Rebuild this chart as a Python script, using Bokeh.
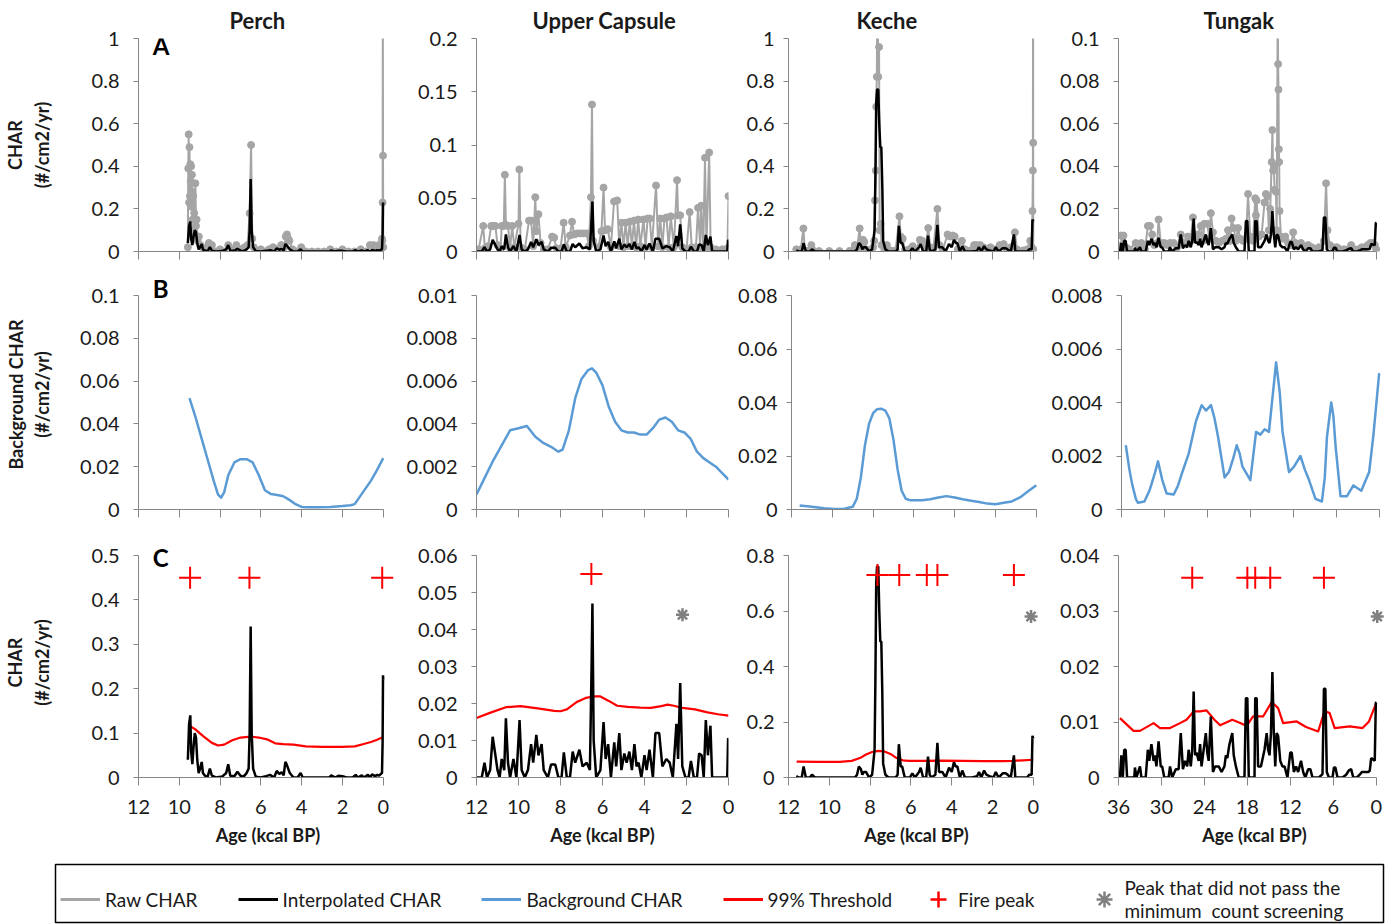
from bokeh.plotting import figure
from bokeh.layouts import row, column
from bokeh.models import Range1d, FixedTicker, CustomJSTickFormatter, Label, Legend, LegendItem
from bokeh.embed import file_html
from bokeh.resources import INLINE

FONT = "Lato"
GRAY = "#A5A5A5"
BLUE = "#5B9BD5"
RED = "#FF0000"
STAR = "#808080"
AXIS = "#868686"
TXT = "#1a1a1a"

site_names = ["Perch", "Upper Capsule", "Keche", "Tungak"]
panel_letters = ["A", "B", "C"]
row_a_label = "CHAR\n(#/cm2/yr)"
row_b_label = "Background CHAR\n(#/cm2/yr)"
row_c_label = "CHAR\n(#/cm2/yr)"
x_label = "Age (kcal BP)"

# ---- x ticks (kcal BP) ----
perch_xticks = [12, 10, 8, 6, 4, 2, 0]
uc_xticks = [12, 10, 8, 6, 4, 2, 0]
keche_xticks = [12, 10, 8, 6, 4, 2, 0]
tungak_xticks = [36, 30, 24, 18, 12, 6, 0]

# ---- y ticks per row ----
perch_yticks_a = [0, 0.2, 0.4, 0.6, 0.8, 1]
uc_yticks_a = [0, 0.05, 0.1, 0.15, 0.2]
keche_yticks_a = [0, 0.2, 0.4, 0.6, 0.8, 1]
tungak_yticks_a = [0, 0.02, 0.04, 0.06, 0.08, 0.1]
perch_yticks_b = [0, 0.02, 0.04, 0.06, 0.08, 0.1]
uc_yticks_b = [0, 0.002, 0.004, 0.006, 0.008, 0.01]
keche_yticks_b = [0, 0.02, 0.04, 0.06, 0.08]
tungak_yticks_b = [0, 0.002, 0.004, 0.006, 0.008]
perch_yticks_c = [0, 0.1, 0.2, 0.3, 0.4, 0.5]
uc_yticks_c = [0, 0.01, 0.02, 0.03, 0.04, 0.05, 0.06]
keche_yticks_c = [0, 0.2, 0.4, 0.6, 0.8]
tungak_yticks_c = [0, 0.01, 0.02, 0.03, 0.04]

# ---- Perch ----
perch_raw = [(9.58,0.02),(9.56,0.39),(9.54,0.55),(9.52,0.23),(9.50,0.49),(9.48,0.26),(9.46,0.41),(9.44,0.33),
             (9.42,0.40),(9.40,0.21),(9.38,0.36),(9.36,0.28),(9.34,0.15),(9.32,0.26),(9.30,0.10),(9.27,0.18),
             (9.24,0.07),(9.21,0.32),(9.18,0.12),(9.15,0.15),(9.10,0.05),(9.04,0.07),(8.96,0.03),(8.85,0.02),
             (8.70,0.01),(8.55,0.04),(8.40,0.03),(8.20,0.0),(8.00,0.01),(7.80,0.0),(7.60,0.03),(7.40,0.01),
             (7.20,0.03),(7.00,0.01),(6.80,0.02),(6.65,0.03),(6.55,0.18),(6.48,0.50),(6.42,0.06),(6.35,0.02),
             (6.20,0.0),(6.00,0.01),(5.80,0.0),(5.60,0.01),(5.40,0.02),(5.20,0.01),(5.00,0.03),(4.85,0.02),
             (4.78,0.07),(4.72,0.08),(4.66,0.06),(4.60,0.05),(4.45,0.01),(4.25,0.0),(4.02,0.02),(3.80,0.0),
             (3.50,0.0),(3.20,0.0),(2.90,0.0),(2.60,0.01),(2.30,0.0),(2.00,0.01),(1.70,0.0),(1.40,0.0),
             (1.10,0.01),(0.85,0.0),(0.65,0.03),(0.48,0.03),(0.35,0.02),(0.22,0.03),(0.12,0.02),(0.06,0.06),
             (0.04,0.05),(0.03,0.23),(0.02,1.25),(0.01,0.45),(0.0,0.02)]
perch_interp = [(9.58,0.04),(9.52,0.12),(9.46,0.14),(9.42,0.06),(9.36,0.03),(9.30,0.07),(9.24,0.10),(9.18,0.09),
                (9.12,0.04),(9.05,0.01),(8.98,0.02),(8.90,0.035),(8.84,0.01),(8.76,0.005),(8.62,0.0),(8.50,0.02),
                (8.40,0.004),(8.20,0.0),(7.90,0.002),(7.70,0.01),(7.60,0.03),(7.50,0.004),(7.30,0.003),(7.15,0.013),
                (7.00,0.004),(6.85,0.002),(6.70,0.01),(6.60,0.02),(6.55,0.10),(6.50,0.34),(6.45,0.10),(6.38,0.02),
                (6.25,0.002),(6.00,0.0),(5.75,0.003),(5.55,0.006),(5.35,0.0),(5.22,0.015),(5.10,0.008),(4.98,0.012),
                (4.88,0.005),(4.80,0.035),(4.74,0.03),(4.66,0.02),(4.58,0.01),(4.40,0.0),(4.20,0.0),(4.05,0.01),
                (3.95,0.0),(3.70,0.0),(3.40,0.0),(3.00,0.0),(2.65,0.0),(2.55,0.005),(2.35,0.0),(2.20,0.004),
                (2.00,0.003),(1.80,0.0),(1.50,0.0),(1.35,0.006),(1.25,0.0),(1.05,0.005),(0.95,0.0),(0.75,0.006),
                (0.65,0.0),(0.55,0.007),(0.40,0.003),(0.30,0.006),(0.20,0.004),(0.12,0.008),(0.06,0.01),
                (0.03,0.08),(0.01,0.23),(0.0,0.22)]
perch_background = [(9.5,0.052),(9.2,0.043),(8.9,0.033),(8.6,0.023),(8.3,0.013),(8.1,0.007),(7.95,0.0055),
                    (7.8,0.008),(7.6,0.016),(7.3,0.022),(7.0,0.0235),(6.7,0.0235),(6.4,0.022),(6.1,0.016),
                    (5.8,0.009),(5.5,0.0072),(5.2,0.0068),(4.9,0.0062),(4.6,0.0045),(4.3,0.0025),(4.0,0.0012),
                    (3.7,0.001),(3.2,0.001),(2.6,0.0012),(2.0,0.0016),(1.6,0.002),(1.4,0.0025),(1.0,0.008),
                    (0.6,0.0135),(0.3,0.0185),(0.0,0.024)]
perch_threshold = [(9.55,0.118),(9.2,0.108),(8.8,0.092),(8.4,0.078),(8.1,0.072),(7.8,0.074),(7.4,0.084),
                   (7.0,0.09),(6.5,0.092),(6.1,0.09),(5.7,0.086),(5.3,0.077),(4.9,0.075),(4.4,0.074),(3.8,0.07),
                   (3.0,0.069),(2.0,0.069),(1.4,0.07),(1.0,0.075),(0.6,0.08),(0.3,0.085),(0.0,0.091)]
perch_peaks = [9.47, 6.56, 0.05]
perch_peak_level = 0.45
perch_rejected = []

# ---- Upper Capsule ----
uc_raw = [(11.9,0.002),(11.68,0.024),(11.6,0.003),(11.45,0.005),(11.3,0.024),(11.2,0.024),(11.1,0.024),(11.0,0.006),
          (10.85,0.003),(10.8,0.024),(10.7,0.024),(10.65,0.072),(10.6,0.025),(10.5,0.024),(10.4,0.003),(10.3,0.024),
          (10.2,0.004),(10.0,0.026),(9.96,0.077),(9.9,0.004),(9.7,0.002),(9.5,0.029),(9.4,0.029),(9.3,0.005),
          (9.2,0.051),(9.15,0.019),(9.05,0.035),(8.95,0.008),(8.8,0.002),(8.6,0.002),(8.4,0.014),(8.3,0.013),
          (8.2,0.003),(8.0,0.003),(7.85,0.027),(7.75,0.004),(7.55,0.015),(7.45,0.028),(7.35,0.016),(7.2,0.017),
          (7.05,0.017),(6.9,0.017),(6.75,0.017),(6.65,0.005),(6.55,0.051),(6.5,0.138),(6.45,0.01),(6.2,0.004),
          (6.05,0.019),(5.95,0.06),(5.88,0.02),(5.75,0.021),(5.6,0.004),(5.45,0.047),(5.3,0.048),(5.2,0.005),
          (5.1,0.027),(5.0,0.004),(4.9,0.027),(4.8,0.005),(4.7,0.028),(4.6,0.005),(4.5,0.029),(4.4,0.004),
          (4.3,0.03),(4.2,0.005),(4.05,0.03),(3.95,0.004),(3.85,0.031),(3.75,0.031),(3.65,0.004),(3.45,0.062),
          (3.35,0.005),(3.25,0.031),(3.15,0.004),(3.05,0.031),(2.95,0.032),(2.85,0.004),(2.75,0.033),(2.6,0.004),
          (2.45,0.067),(2.4,0.034),(2.3,0.034),(2.2,0.004),(2.0,0.002),(1.85,0.037),(1.75,0.004),(1.55,0.004),
          (1.45,0.041),(1.35,0.004),(1.3,0.043),(1.2,0.004),(1.12,0.088),(1.05,0.004),(0.92,0.093),(0.85,0.004),
          (0.6,0.002),(0.3,0.002),(0.05,0.003),(0.0,0.052)]
uc_interp = [(12.0,0.0),(11.75,0.0),(11.62,0.004),(11.5,0.0),(11.35,0.002),(11.23,0.011),(11.1,0.006),(11.0,0.002),
             (10.9,0.0),(10.8,0.005),(10.68,0.002),(10.6,0.016),(10.5,0.004),(10.4,0.0),(10.24,0.005),(10.1,0.0),
             (9.95,0.0155),(9.85,0.002),(9.7,0.0),(9.55,0.002),(9.4,0.009),(9.3,0.004),(9.15,0.0115),(9.05,0.006),
             (8.9,0.009),(8.8,0.002),(8.6,0.0),(8.45,0.0035),(8.25,0.0035),(8.1,0.0),(7.95,0.0),(7.84,0.0068),
             (7.7,0.0),(7.55,0.0),(7.42,0.007),(7.3,0.004),(7.1,0.0075),(6.95,0.003),(6.75,0.004),(6.6,0.002),
             (6.52,0.03),(6.48,0.047),(6.42,0.01),(6.3,0.0),(6.1,0.002),(5.95,0.015),(5.85,0.005),(5.73,0.009),
             (5.6,0.0),(5.44,0.0095),(5.35,0.003),(5.2,0.012),(5.1,0.002),(4.96,0.0065),(4.85,0.004),(4.72,0.007),
             (4.6,0.002),(4.48,0.009),(4.38,0.003),(4.28,0.004),(4.15,0.0),(4.0,0.006),(3.9,0.002),(3.76,0.0075),
             (3.6,0.0),(3.48,0.012),(3.3,0.012),(3.15,0.003),(2.96,0.005),(2.8,0.004),(2.65,0.0),(2.48,0.0145),
             (2.4,0.005),(2.3,0.0255),(2.2,0.003),(2.05,0.0),(1.9,0.0),(1.79,0.0045),(1.65,0.0),(1.5,0.0),
             (1.4,0.0065),(1.28,0.006),(1.18,0.0),(1.08,0.0155),(0.98,0.006),(0.86,0.014),(0.78,0.0),(0.5,0.0),
             (0.2,0.0),(0.06,0.0),(0.02,0.0105),(0.0,0.0105)]
uc_background = [(12.0,0.0007),(11.6,0.0015),(11.2,0.0023),(10.8,0.003),(10.4,0.0037),(10.0,0.0038),(9.6,0.0039),
                 (9.2,0.0034),(8.8,0.0031),(8.4,0.0029),(8.1,0.0027),(7.9,0.0028),(7.6,0.0037),(7.3,0.0052),
                 (7.0,0.0061),(6.7,0.0065),(6.5,0.0066),(6.3,0.0064),(6.0,0.0058),(5.7,0.0048),(5.4,0.0041),
                 (5.1,0.0037),(4.8,0.0036),(4.5,0.0036),(4.2,0.0035),(3.9,0.0035),(3.6,0.0038),(3.3,0.0042),
                 (3.0,0.0043),(2.7,0.0041),(2.4,0.0037),(2.1,0.0036),(1.8,0.0033),(1.5,0.0027),(1.2,0.0024),
                 (0.9,0.0022),(0.6,0.002),(0.3,0.0017),(0.0,0.0014)]
uc_threshold = [(12.0,0.0161),(11.3,0.0176),(10.6,0.019),(9.9,0.0193),(9.0,0.0186),(8.3,0.018),(8.0,0.0179),
                (7.7,0.0184),(7.2,0.0205),(6.8,0.0215),(6.4,0.0219),(6.1,0.0219),(5.7,0.0207),(5.3,0.0194),
                (4.8,0.0191),(4.2,0.0189),(3.7,0.0188),(3.2,0.0193),(2.9,0.0197),(2.6,0.0194),(2.2,0.0188),
                (1.6,0.0184),(1.0,0.0176),(0.5,0.0171),(0.0,0.0167)]
uc_peaks = [6.53]
uc_peak_level = 0.055
uc_rejected = [(2.19, 0.044)]

# ---- Keche ----
keche_raw = [(11.62,0.01),(11.56,0.005),(11.4,0.01),(11.27,0.108),(11.2,0.005),(11.0,0.005),(10.88,0.03),(10.8,0.005),
             (10.5,0.002),(10.0,0.002),(9.5,0.002),(9.0,0.003),(8.75,0.03),(8.65,0.01),(8.51,0.108),(8.45,0.02),
             (8.35,0.055),(8.28,0.045),(8.2,0.01),(8.0,0.005),(7.85,0.02),(7.8,0.05),(7.76,0.24),(7.72,0.38),
             (7.7,0.68),(7.67,0.82),(7.64,1.3),(7.6,0.82),(7.56,0.96),(7.53,0.1),(7.48,0.13),(7.44,0.03),(7.3,0.005),
             (7.18,0.03),(7.0,0.005),(6.75,0.005),(6.56,0.165),(6.5,0.07),(6.4,0.06),(6.3,0.005),(6.1,0.01),
             (5.91,0.025),(5.75,0.005),(5.56,0.055),(5.45,0.05),(5.3,0.01),(5.15,0.11),(5.05,0.02),(4.9,0.01),
             (4.7,0.2),(4.6,0.03),(4.45,0.005),(4.2,0.08),(4.08,0.07),(3.95,0.075),(3.85,0.07),(3.7,0.01),(3.5,0.05),
             (3.35,0.01),(3.1,0.005),(2.9,0.03),(2.78,0.03),(2.6,0.03),(2.45,0.02),(2.3,0.01),(2.1,0.02),(1.85,0.01),
             (1.65,0.03),(1.45,0.035),(1.3,0.01),(1.1,0.02),(0.9,0.09),(0.8,0.01),(0.5,0.005),(0.3,0.01),(0.15,0.05),
             (0.08,0.02),(0.04,0.19),(0.02,0.38),(0.01,1.3),(0.005,0.51),(0.0,0.01)]
keche_interp = [(11.62,0.005),(11.5,0.0),(11.35,0.0),(11.26,0.04),(11.15,0.0),(10.95,0.0),(10.85,0.01),(10.7,0.0),
                (10.0,0.0),(9.0,0.0),(8.75,0.0),(8.64,0.01),(8.55,0.04),(8.45,0.03),(8.38,0.01),(8.31,0.02),
                (8.2,0.02),(8.05,0.0),(7.9,0.01),(7.78,0.1),(7.74,0.35),(7.7,0.7),(7.66,0.76),(7.6,0.76),(7.55,0.6),
                (7.5,0.49),(7.45,0.49),(7.4,0.3),(7.36,0.05),(7.25,0.01),(7.1,0.0),(6.75,0.0),(6.65,0.01),(6.59,0.12),
                (6.5,0.04),(6.43,0.04),(6.3,0.0),(6.05,0.0),(5.93,0.015),(5.8,0.0),(5.6,0.02),(5.52,0.035),(5.4,0.0),
                (5.25,0.0),(5.16,0.075),(5.08,0.01),(5.0,0.0),(4.8,0.01),(4.7,0.125),(4.62,0.02),(4.46,0.02),
                (4.3,0.0),(4.13,0.035),(4.0,0.02),(3.89,0.055),(3.8,0.04),(3.72,0.04),(3.6,0.0),(3.48,0.025),
                (3.35,0.0),(3.0,0.0),(2.75,0.005),(2.66,0.02),(2.55,0.0),(2.41,0.025),(2.3,0.01),(2.15,0.005),
                (1.95,0.0),(1.84,0.02),(1.7,0.0),(1.5,0.015),(1.35,0.015),(1.1,0.0),(0.95,0.08),(0.88,0.0),(0.6,0.0),
                (0.3,0.0),(0.2,0.01),(0.08,0.01),(0.04,0.15),(0.0,0.14)]
keche_background = [(11.6,0.0015),(11.0,0.001),(10.4,0.0005),(9.9,0.0002),(9.4,0.0003),(9.0,0.001),(8.8,0.004),
                    (8.6,0.012),(8.4,0.024),(8.2,0.032),(8.0,0.036),(7.8,0.0375),(7.6,0.0377),(7.4,0.037),
                    (7.2,0.034),(7.0,0.026),(6.8,0.015),(6.6,0.007),(6.4,0.004),(6.2,0.0035),(5.6,0.0035),
                    (5.2,0.0038),(4.8,0.0045),(4.4,0.005),(4.0,0.0045),(3.6,0.0038),(3.2,0.0033),(2.8,0.0028),
                    (2.4,0.0022),(2.0,0.002),(1.6,0.0025),(1.2,0.003),(0.8,0.0045),(0.4,0.0068),(0.0,0.0091)]
keche_threshold = [(11.6,0.057),(10.5,0.056),(9.5,0.056),(8.9,0.06),(8.5,0.07),(8.2,0.083),(7.9,0.092),(7.6,0.096),
                   (7.3,0.094),(7.0,0.085),(6.7,0.07),(6.4,0.062),(6.1,0.06),(5.5,0.06),(4.5,0.061),(3.5,0.06),
                   (2.5,0.059),(1.5,0.059),(1.0,0.06),(0.5,0.062),(0.0,0.064)]
keche_peaks = [7.64, 6.57, 5.22, 4.7, 0.95]
keche_peak_level = 0.73
keche_rejected = [(0.11, 0.58)]

# ---- Tungak ----
tungak_raw = [(35.7,0.0075),(35.5,0.003),(35.3,0.0075),(35.0,0.002),(34.5,0.001),(33.6,0.004),(33.2,0.001),
              (32.8,0.004),(32.3,0.001),(31.9,0.012),(31.6,0.012),(31.3,0.008),(31.0,0.003),(30.6,0.004),
              (30.4,0.015),(30.1,0.004),(29.6,0.004),(29.2,0.003),(28.8,0.004),(28.3,0.004),(27.8,0.002),
              (27.3,0.008),(26.8,0.004),(26.3,0.007),(25.9,0.005),(25.6,0.016),(25.3,0.006),(24.9,0.008),
              (24.5,0.012),(24.2,0.005),(24.0,0.013),(23.6,0.013),(23.3,0.006),(23.1,0.018),(22.8,0.009),
              (22.4,0.005),(22.0,0.004),(21.5,0.005),(21.0,0.006),(20.7,0.01),(20.4,0.005),(20.2,0.0155),
              (19.9,0.011),(19.6,0.005),(19.3,0.011),(19.0,0.006),(18.6,0.005),(18.2,0.006),(17.9,0.027),
              (17.6,0.007),(17.2,0.005),(16.9,0.025),(16.8,0.017),(16.7,0.024),(16.4,0.007),(16.0,0.008),
              (15.6,0.023),(15.4,0.027),(15.2,0.026),(15.0,0.01),(14.8,0.02),(14.6,0.042),(14.5,0.057),
              (14.4,0.038),(14.3,0.04),(14.2,0.029),(14.0,0.028),(13.9,0.01),(13.75,0.12),(13.7,0.088),
              (13.65,0.076),(13.6,0.048),(13.55,0.042),(13.5,0.019),(13.3,0.007),(13.0,0.006),(12.7,0.007),
              (12.3,0.004),(11.9,0.003),(11.6,0.009),(11.3,0.004),(11.0,0.003),(10.5,0.004),(10.0,0.002),
              (9.5,0.003),(9.0,0.002),(8.5,0.001),(8.0,0.002),(7.3,0.005),(7.0,0.032),(6.8,0.01),(6.5,0.003),
              (6.0,0.002),(5.5,0.002),(5.0,0.001),(4.5,0.001),(4.0,0.001),(3.5,0.003),(3.0,0.001),(2.5,0.001),
              (2.0,0.002),(1.5,0.002),(1.2,0.003),(0.8,0.004),(0.5,0.004),(0.2,0.003),(0.0,0.001)]
tungak_interp = [(35.8,0.0),(35.6,0.004),(35.4,0.0),(35.2,0.005),(35.0,0.005),(34.8,0.0),(34.2,0.0),(33.8,0.0),
                 (33.7,0.0018),(33.5,0.0),(33.0,0.002),(32.8,0.0),(32.2,0.0),(31.9,0.005),(31.7,0.003),(31.4,0.006),
                 (31.1,0.003),(30.9,0.004),(30.7,0.002),(30.4,0.0065),(30.1,0.002),(29.9,0.002),(29.6,0.0),(29.0,0.0),
                 (28.8,0.002),(28.5,0.0),(28.0,0.0015),(27.6,0.0015),(27.3,0.008),(27.0,0.0015),(26.7,0.003),
                 (26.4,0.002),(26.2,0.005),(25.9,0.002),(25.7,0.005),(25.5,0.0155),(25.3,0.004),(25.1,0.0045),
                 (24.8,0.003),(24.6,0.006),(24.4,0.002),(24.2,0.004),(24.0,0.006),(23.8,0.008),(23.6,0.0045),
                 (23.4,0.003),(23.1,0.011),(22.8,0.001),(22.5,0.002),(22.0,0.002),(21.6,0.001),(21.2,0.002),
                 (21.0,0.004),(20.8,0.0035),(20.5,0.006),(20.3,0.007),(20.1,0.008),(19.9,0.004),(19.6,0.002),
                 (19.2,0.0),(18.7,0.0),(18.4,0.0),(18.2,0.0143),(18.0,0.0143),(17.8,0.0),(17.4,0.0),(17.0,0.0),
                 (16.9,0.0143),(16.7,0.0143),(16.5,0.002),(16.1,0.002),(15.6,0.005),(15.3,0.008),(15.1,0.005),
                 (14.9,0.004),(14.7,0.008),(14.5,0.019),(14.3,0.008),(14.1,0.002),(13.9,0.008),(13.7,0.0075),
                 (13.4,0.003),(13.1,0.002),(12.8,0.002),(12.4,0.0),(12.0,0.0045),(11.8,0.0045),(11.5,0.001),
                 (11.2,0.002),(10.9,0.001),(10.5,0.003),(10.2,0.001),(9.9,0.0),(9.5,0.0015),(9.2,0.0015),(8.9,0.0),
                 (8.0,0.0),(7.5,0.0006),(7.3,0.016),(7.1,0.016),(6.9,0.001),(6.6,0.0),(6.1,0.0),(5.9,0.0018),
                 (5.7,0.0018),(5.4,0.0),(4.7,0.0),(4.2,0.0005),(3.8,0.0013),(3.5,0.0015),(3.2,0.0),(2.7,0.0),
                 (2.3,0.0005),(2.0,0.001),(1.5,0.001),(1.1,0.001),(0.9,0.0012),(0.7,0.0035),(0.4,0.0032),
                 (0.2,0.003),(0.05,0.0135),(0.0,0.0135)]
tungak_background = [(35.4,0.0024),(34.9,0.0015),(34.5,0.00093),(34.0,0.0004),(33.7,0.00025),(32.8,0.0003),
                     (32.1,0.0007),(31.4,0.0013),(30.9,0.0018),(30.3,0.0011),(29.7,0.0006),(28.7,0.00056),
                     (28.1,0.0009),(27.5,0.0014),(26.6,0.0021),(25.6,0.0033),(24.8,0.0039),(24.2,0.0037),
                     (23.5,0.0039),(23.0,0.0034),(22.5,0.0027),(21.6,0.0012),(21.0,0.0014),(20.4,0.0019),
                     (19.9,0.0024),(19.5,0.0021),(19.1,0.0016),(18.0,0.0011),(17.2,0.0029),(16.6,0.0028),
                     (16.0,0.003),(15.4,0.0029),(14.9,0.0042),(14.4,0.0055),(13.9,0.0044),(13.5,0.0029),
                     (12.6,0.0014),(11.9,0.0016),(11.0,0.002),(10.4,0.0015),(9.8,0.0011),(8.9,0.0004),
                     (8.0,0.0003),(7.6,0.0012),(7.3,0.0027),(6.7,0.004),(6.4,0.0035),(6.1,0.0024),(5.4,0.0005),
                     (4.5,0.0005),(3.6,0.0009),(2.5,0.0007),(1.4,0.0014),(0.8,0.0028),(0.0,0.0051)]
tungak_threshold = [(35.8,0.0107),(33.9,0.0084),(33.0,0.0084),(31.1,0.0098),(30.2,0.0089),(28.8,0.0089),
                    (27.4,0.0098),(26.5,0.0104),(25.5,0.0119),(24.6,0.0119),(23.7,0.0121),(22.6,0.0104),
                    (21.8,0.0094),(20.1,0.0104),(19.0,0.0098),(18.1,0.0093),(17.2,0.011),(15.8,0.011),
                    (14.6,0.0136),(13.7,0.0125),(13.0,0.0098),(11.1,0.0101),(9.8,0.0091),(8.1,0.0083),
                    (7.2,0.012),(6.5,0.0116),(5.8,0.0089),(3.7,0.0092),(1.9,0.0089),(1.0,0.0101),(0.0,0.0134)]
tungak_peaks = [25.7, 18.0, 16.9, 14.8, 7.3]
tungak_peak_level = 0.036
tungak_rejected = [(-0.15, 0.029)]

# ---------------- build ----------------
sites = [
    dict(raw=perch_raw, interp=perch_interp, bg=perch_background, thr=perch_threshold, peaks=perch_peaks,
         plev=perch_peak_level, rej=perch_rejected, xt=perch_xticks,
         yt=[perch_yticks_a, perch_yticks_b, perch_yticks_c]),
    dict(raw=uc_raw, interp=uc_interp, bg=uc_background, thr=uc_threshold, peaks=uc_peaks,
         plev=uc_peak_level, rej=uc_rejected, xt=uc_xticks,
         yt=[uc_yticks_a, uc_yticks_b, uc_yticks_c]),
    dict(raw=keche_raw, interp=keche_interp, bg=keche_background, thr=keche_threshold, peaks=keche_peaks,
         plev=keche_peak_level, rej=keche_rejected, xt=keche_xticks,
         yt=[keche_yticks_a, keche_yticks_b, keche_yticks_c]),
    dict(raw=tungak_raw, interp=tungak_interp, bg=tungak_background, thr=tungak_threshold, peaks=tungak_peaks,
         plev=tungak_peak_level, rej=tungak_rejected, xt=tungak_xticks,
         yt=[tungak_yticks_a, tungak_yticks_b, tungak_yticks_c]),
]

COLS = [dict(left=138, fw=259, right=1, ext=0.7, ystand=14, toff=91),
        dict(left=78, fw=252, right=6, ext=0.0, ystand=14, toff=56),
        dict(left=54, fw=256, right=1, ext=0.55, ystand=9, toff=68),
        dict(left=73, fw=272, right=10, ext=2.0, ystand=14, toff=85)]
# frame (fh) = axis span (span) + extra room above the axis top (room)
ROWS = [dict(top=38, span=213, room=0, bottom=14),
        dict(top=14, span=214, room=16, bottom=14),
        dict(top=24, span=222, room=8, bottom=80)]
ylabels = [row_a_label, row_b_label, row_c_label]
ylab_standoff = [36, 24, 36]
letter_offsets = [8, 22, 13]

num_fmt = CustomJSTickFormatter(code="return String(Number(tick.toPrecision(8)));")


def xs(pairs):
    return [a for a, _ in pairs]


def ys(pairs):
    return [v for _, v in pairs]


def make_panel(ci, ri):
    s = sites[ci]
    c = COLS[ci]
    r = ROWS[ri]
    xmax = max(s["xt"])
    yt = s["yt"][ri]
    ytop = max(yt)
    fh = r["span"] + r["room"]
    yend = ytop * fh / r["span"]
    kw = {}
    if ri == 0:
        kw["title"] = site_names[ci]
    p = figure(frame_width=c["fw"], frame_height=fh,
               x_range=Range1d(xmax, -c["ext"]), y_range=Range1d(0, yend),
               min_border_left=c["left"], min_border_right=c["right"],
               min_border_top=r["top"], min_border_bottom=r["bottom"],
               output_backend="svg", toolbar_location=None, **kw)
    p.grid.visible = False
    p.outline_line_color = None
    p.background_fill_color = "white"
    p.border_fill_color = "white"
    if ri == 0:
        p.title.align = "left"
        p.title.offset = c["toff"]
        p.title.text_font = FONT
        p.title.text_font_size = "22px"
        p.title.text_font_style = "bold"
        p.title.text_color = TXT
        p.title.standoff = 9

    # y axis
    ya = p.yaxis[0]
    ya.ticker = FixedTicker(ticks=yt)
    ya.bounds = (0, ytop)
    ya.formatter = num_fmt
    ya.major_tick_out = 5
    ya.major_tick_in = 0
    ya.minor_tick_out = 0
    ya.minor_tick_in = 0
    ya.axis_line_color = AXIS
    ya.major_tick_line_color = AXIS
    ya.major_label_standoff = c["ystand"]
    ya.major_label_text_font = FONT
    ya.major_label_text_font_size = "20px"
    ya.major_label_text_color = TXT
    if ci == 0:
        ya.axis_label = ylabels[ri]
        ya.axis_label_text_font = FONT
        ya.axis_label_text_font_size = "18px"
        ya.axis_label_text_font_style = "bold"
        ya.axis_label_text_color = TXT
        ya.axis_label_standoff = ylab_standoff[ri]

    # x axis
    xa = p.xaxis[0]
    xa.ticker = FixedTicker(ticks=s["xt"])
    xa.bounds = (0, xmax)
    xa.major_tick_out = 8
    xa.major_tick_in = 0
    xa.minor_tick_out = 0
    xa.minor_tick_in = 0
    xa.axis_line_color = AXIS
    xa.major_tick_line_color = AXIS
    if ri == 2:
        xa.formatter = num_fmt
        xa.major_label_standoff = 14
        xa.major_label_text_font = FONT
        xa.major_label_text_font_size = "20px"
        xa.major_label_text_color = TXT
        xa.axis_label = x_label
        xa.axis_label_text_font = FONT
        xa.axis_label_text_font_size = "18px"
        xa.axis_label_text_font_style = "bold"
        xa.axis_label_text_color = TXT
        xa.axis_label_standoff = 7
    else:
        xa.formatter = CustomJSTickFormatter(code="return '';")
        xa.major_label_standoff = 0
        xa.major_label_text_font_size = "0px"

    if ri == 0:
        p.line(xs(s["raw"]), ys(s["raw"]), line_color=GRAY, line_width=2)
        p.scatter(xs(s["raw"]), ys(s["raw"]), size=7, fill_color=GRAY, line_color=GRAY)
        p.line(xs(s["interp"]), ys(s["interp"]), line_color="black", line_width=2.5)
    elif ri == 1:
        p.line(xs(s["bg"]), ys(s["bg"]), line_color=BLUE, line_width=2.5, line_join="round")
    else:
        p.line(xs(s["thr"]), ys(s["thr"]), line_color=RED, line_width=2.2, line_join="round")
        p.line(xs(s["interp"]), ys(s["interp"]), line_color="black", line_width=2.5)
        p.scatter(s["peaks"], [s["plev"]] * len(s["peaks"]), marker="cross", size=22,
                  line_color=RED, line_width=2)
        if s["rej"]:
            p.scatter(xs(s["rej"]), ys(s["rej"]), marker="asterisk", size=13,
                      line_color=STAR, line_width=2.5)

    if ci == 0:
        p.add_layout(Label(x=11.3, y=ytop, text=panel_letters[ri], text_baseline="top",
                           y_offset=letter_offsets[ri], text_font=FONT, text_font_size="24px",
                           text_font_style="bold", text_color="black"))
    return p


rows = []
for ri in range(3):
    rows.append(row(*[make_panel(ci, ri) for ci in range(4)]))

# ---------------- legend ----------------
nan = float("nan")
lg = figure(frame_width=1328, frame_height=58, x_range=Range1d(0, 1), y_range=Range1d(0, 1),
            min_border_left=55, min_border_right=17, min_border_top=7, min_border_bottom=2,
            x_axis_location=None, y_axis_location=None,
            output_backend="svg", toolbar_location=None)
lg.grid.visible = False
lg.outline_line_color = "black"
lg.outline_line_width = 1.5
r_raw = lg.line([nan], [nan], line_color=GRAY, line_width=3)
r_int = lg.line([nan], [nan], line_color="black", line_width=3)
r_bg = lg.line([nan], [nan], line_color=BLUE, line_width=3)
r_thr = lg.line([nan], [nan], line_color=RED, line_width=3)
r_peak = lg.scatter([nan], [nan], marker="cross", line_color=RED, line_width=2.5, size=16)
r_rej = lg.scatter([nan], [nan], marker="asterisk", line_color=STAR, line_width=2.5, size=14)
line_labels = ["Raw CHAR", "Interpolated CHAR", "Background CHAR", "99% Threshold"]
marker_labels = ["Fire peak", "Peak that did not pass the\nminimum  count screening"]
common = dict(orientation="horizontal", padding=6, glyph_width=40, glyph_height=40,
              label_text_font=FONT, label_text_font_size="19px", label_text_color=TXT,
              border_line_color=None, background_fill_alpha=0)
legend_lines = Legend(items=[LegendItem(label=t, renderers=[rr]) for t, rr in
                             zip(line_labels, [r_raw, r_int, r_bg, r_thr])],
                      location=(5, 3), spacing=40, label_standoff=5, **common)
legend_marks = Legend(items=[LegendItem(label=t, renderers=[rr]) for t, rr in
                             zip(marker_labels, [r_peak, r_rej])],
                      location=(863, 0), spacing=50, label_standoff=-3, **common)
lg.add_layout(legend_lines)
lg.add_layout(legend_marks)

page = column(*rows, lg)
open("out.html", "w").write(file_html(page, INLINE))
